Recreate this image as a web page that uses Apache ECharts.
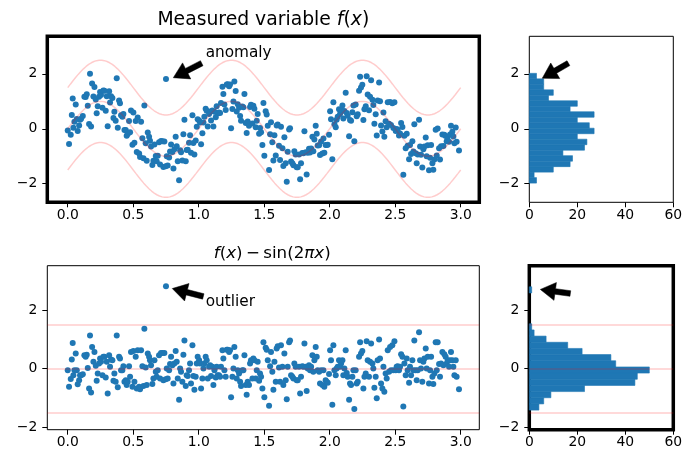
<!DOCTYPE html>
<html>
<head>
<meta charset="utf-8">
<script src="https://cdn.jsdelivr.net/npm/echarts@6.0.0/dist/echarts.min.js"></script>
<style>
  * { margin: 0; padding: 0; }
  body { background: #fff; }
  #main { width: 694px; height: 456px; }
</style>
</head>
<body>
<div id="main"></div>
<script>
// x positions of the measurements
var xs = [
  0.000,0.010,0.023,0.031,0.038,0.043,0.051,0.061,0.069,0.076,0.087,0.094,0.102,0.115,0.127,0.137,0.145,0.153,0.163,0.170,
  0.178,0.186,0.196,0.204,0.214,0.221,0.229,0.239,0.247,0.254,0.265,0.272,0.280,0.290,0.298,0.305,0.316,0.323,0.331,0.341,
  0.349,0.356,0.366,0.374,0.382,0.392,0.399,0.407,0.417,0.425,0.433,0.443,0.450,0.458,0.468,0.476,0.483,0.494,0.501,0.509,
  0.519,0.527,0.534,0.545,0.552,0.560,0.570,0.578,0.585,0.595,0.603,0.611,0.621,0.628,0.636,0.646,0.654,0.662,0.672,0.679,
  0.687,0.697,0.705,0.712,0.723,0.730,0.738,0.748,0.750,0.756,0.763,0.774,0.781,0.789,0.799,0.807,0.814,0.824,0.832,0.840,
  0.850,0.858,0.865,0.875,0.883,0.891,0.901,0.908,0.916,0.926,0.934,0.941,0.952,0.959,0.967,0.977,0.985,0.992,1.003,1.010,
  1.018,1.028,1.036,1.043,1.053,1.061,1.069,1.079,1.087,1.094,1.104,1.112,1.120,1.130,1.137,1.145,1.155,1.163,1.170,1.181,
  1.188,1.196,1.206,1.214,1.221,1.232,1.239,1.247,1.257,1.265,1.272,1.282,1.290,1.298,1.308,1.316,1.323,1.333,1.341,1.349,
  1.359,1.366,1.374,1.384,1.392,1.399,1.410,1.417,1.425,1.435,1.443,1.450,1.461,1.468,1.476,1.486,1.494,1.501,1.511,1.519,
  1.527,1.537,1.545,1.552,1.562,1.570,1.578,1.588,1.595,1.603,1.613,1.621,1.628,1.639,1.646,1.654,1.664,1.672,1.679,1.690,
  1.697,1.705,1.715,1.723,1.730,1.740,1.748,1.756,1.766,1.774,1.781,1.791,1.799,1.807,1.817,1.824,1.832,1.842,1.850,1.858,
  1.868,1.875,1.883,1.893,1.901,1.908,1.919,1.926,1.934,1.944,1.952,1.959,1.969,1.977,1.985,1.995,2.003,2.010,2.020,2.028,
  2.036,2.046,2.053,2.061,2.071,2.079,2.087,2.097,2.104,2.112,2.122,2.130,2.137,2.148,2.155,2.163,2.173,2.181,2.188,2.198,
  2.206,2.214,2.224,2.232,2.239,2.249,2.257,2.265,2.275,2.282,2.290,2.300,2.308,2.316,2.326,2.333,2.341,2.351,2.359,2.366,
  2.377,2.384,2.392,2.402,2.410,2.417,2.427,2.435,2.443,2.453,2.461,2.468,2.478,2.486,2.494,2.504,2.511,2.519,2.529,2.537,
  2.545,2.555,2.562,2.570,2.580,2.588,2.595,2.606,2.613,2.621,2.631,2.639,2.646,2.656,2.664,2.672,2.682,2.690,2.697,2.707,
  2.715,2.723,2.733,2.740,2.748,2.758,2.766,2.774,2.784,2.791,2.799,2.809,2.817,2.824,2.835,2.842,2.850,2.860,2.868,2.875,
  2.885,2.893,2.901,2.911,2.919,2.926,2.936,2.944,2.952,2.962,2.969,2.987
];
// f(x) - sin(2*pi*x)
var resid = [
  -0.06,-0.62,-0.36,0.31,0.87,-0.23,-0.06,0.51,-0.06,-0.54,-0.40,-0.23,-0.23,-0.20,0.45,0.40,0.47,0.02,-0.68,1.13,
  -0.82,0.73,0.23,0.56,0.09,-0.42,-0.17,0.17,0.34,0.23,-0.23,0.40,0.40,-0.31,0.23,-0.85,0.45,0.06,0.31,0.28,
  -0.42,-0.17,-0.45,1.13,-0.64,0.40,0.34,-0.06,-0.06,0.08,-0.45,-0.40,-0.56,-0.45,0.08,-0.28,0.56,-0.62,0.60,-0.45,
  0.40,-0.68,0.62,-0.62,-0.71,0.62,0.08,-0.60,1.36,0.03,-0.56,0.51,0.40,0.28,0.11,-0.53,-0.34,0.28,-0.11,-0.28,
  -0.06,0.45,-0.34,0.53,0.53,-0.40,0.53,-0.37,2.81,0.00,-0.34,-0.06,0.15,0.40,0.11,-0.51,0.17,0.60,0.23,-0.34,
  -1.07,0.00,-0.11,-0.45,0.47,0.96,-0.60,-0.23,-0.26,-0.06,0.17,-0.51,0.79,-0.26,-0.73,-0.28,0.17,0.40,0.28,0.17,
  -0.68,-0.34,0.00,0.17,0.40,0.28,-0.34,0.06,0.11,-0.26,0.06,-0.56,-0.06,-0.31,0.06,-0.23,-0.23,-0.28,0.06,0.62,
  0.34,-0.06,-0.28,0.64,0.64,0.56,0.62,-0.98,-0.28,0.00,0.73,0.40,-0.34,-0.06,-0.17,-0.45,-0.60,-0.06,-0.06,0.45,
  -0.56,-0.90,-0.45,-0.56,0.17,0.28,-0.34,0.34,0.28,-0.34,-0.06,0.23,-0.42,-0.17,-0.28,-0.68,0.90,-0.98,0.71,0.64,
  0.28,-1.27,0.08,0.56,-0.11,-0.73,0.23,-0.45,0.68,0.76,0.03,-0.45,0.79,0.06,-0.56,0.51,-0.40,-1.05,0.06,0.90,
  0.96,-0.23,-0.28,-0.34,0.17,0.06,-0.40,-0.40,0.06,-0.85,-0.28,0.08,0.06,0.85,0.06,-0.77,0.00,0.11,-0.06,0.06,
  0.45,-0.11,0.28,0.73,0.40,-0.06,-0.11,-0.51,-0.06,-0.56,-0.06,-0.62,-0.40,-0.45,-0.49,-0.19,0.62,0.28,-1.24,0.79,
  -0.06,-0.23,0.00,0.06,0.28,0.06,0.17,0.28,-0.23,0.00,0.62,-0.15,-0.28,-1.07,-0.51,-0.56,-0.28,-0.06,-1.38,-0.06,
  -0.51,-0.45,0.40,0.90,0.51,0.60,-0.68,-0.28,-0.17,0.93,0.28,-0.28,0.23,0.85,0.17,0.00,-0.66,-0.28,-1.02,0.28,
  0.99,0.34,-0.51,-0.68,0.06,-0.79,-0.17,-0.34,0.62,-0.11,0.73,-0.06,0.79,-0.06,0.93,-0.06,0.06,0.08,-0.06,0.06,
  0.49,0.40,-1.30,0.17,-0.23,0.34,-0.06,-0.49,0.06,-0.23,0.28,-0.06,0.96,-0.06,-0.40,-0.06,1.24,0.28,0.00,-0.45,
  0.23,0.34,0.68,0.00,0.40,-0.51,-0.06,0.40,-0.28,-0.53,-0.17,0.90,-0.06,0.90,0.15,-0.28,0.17,0.56,0.11,0.49,
  0.40,0.17,0.28,0.06,0.28,0.56,0.28,0.06,-0.23,0.28,-0.28,-0.71
];

// histogram counts, lowest bin first
var topHistCounts = [3,2,10,17,18,14,23,24,20,27,25,20,27,17,20,8,10,6,6,3];
var topHistStart = -1.98, topHistWidth = 0.2;
var botHistCounts = [4,6,9,23,44,45,50,36,34,22,16,7,2,1,0,0,0,0,0,1];
var botHistStart = -1.42, botHistWidth = 0.2105;

var bandLevels = [-1.5, 0, 1.5];
var xTicks = [0, 0.5, 1, 1.5, 2, 2.5, 3];
var yTicks = [-2, 0, 2];
var countTicks = [0, 20, 40, 60];

var BLUE = '#1f77b4';
var PINK = 'rgba(255,0,0,0.2)';
var FONT = 'DejaVu Sans';

var measured = xs.map(function (x, i) { return [x, Math.sin(2 * Math.PI * x) + resid[i]]; });
var residPts = xs.map(function (x, i) { return [x, resid[i]]; });

// model curve sin(2 pi x) and the +-1.5 band around it
var curveX = [];
for (var k = 0; k <= 300; k++) curveX.push(k / 100);
function band(off) {
  return curveX.map(function (x) { return [x, Math.sin(2 * Math.PI * x) + off]; });
}

function histData(counts, start, w) {
  return counts.map(function (c, i) { return [start + i * w, start + (i + 1) * w, c]; });
}

function histItem(params, api) {
  var a = api.coord([0, api.value(1)]);
  var b = api.coord([api.value(2), api.value(0)]);
  return {
    type: 'rect',
    shape: { x: a[0], y: a[1], width: b[0] - a[0], height: b[1] - a[1] },
    style: { fill: BLUE, stroke: api.value(2) > 0 ? BLUE : null, lineWidth: 0.6 }
  };
}

function fmtY(v) { return v < 0 ? '\u2212' + (-v) : String(v); }

var grids = [
  { left: 47.3, top: 36.3, width: 432, height: 166, show: true, borderColor: '#000', borderWidth: 3.5, backgroundColor: 'transparent' },
  { left: 529.3, top: 36.3, width: 144, height: 166, show: true, borderColor: '#000', borderWidth: 1, backgroundColor: 'transparent' },
  { left: 47.3, top: 265.7, width: 432, height: 164, show: true, borderColor: '#000', borderWidth: 1, backgroundColor: 'transparent' },
  { left: 529.3, top: 265.7, width: 144, height: 164, show: true, borderColor: '#000', borderWidth: 3.5, backgroundColor: 'transparent' }
];

function xAxisFor(i, isHist) {
  return {
    type: 'value', gridIndex: i,
    min: isHist ? 0 : -0.156, max: isHist ? 60 : 3.142,
    axisLine: { show: false, onZero: false },
    splitLine: { show: false },
    axisTick: { show: true, length: 5, customValues: isHist ? countTicks : xTicks, lineStyle: { color: '#000', width: 1 } },
    axisLabel: {
      customValues: isHist ? countTicks : xTicks,
      formatter: function (v) { return isHist ? String(v) : v.toFixed(1); },
      color: '#000', fontSize: 13.9, fontFamily: FONT, margin: 6
    }
  };
}
function yAxisFor(i, range) {
  return {
    type: 'value', gridIndex: i,
    min: range[0], max: range[1],
    axisLine: { show: false, onZero: false },
    splitLine: { show: false },
    axisTick: { show: true, length: 5, customValues: yTicks, lineStyle: { color: '#000', width: 1 } },
    axisLabel: { customValues: yTicks, formatter: fmtY, color: '#000', fontSize: 13.9, fontFamily: FONT, margin: 10 }
  };
}

var topRange = [-2.68, 3.37];
var botRange = [-2.09, 3.51];

var chart = echarts.init(document.getElementById('main'), null, { renderer: 'canvas' });

var hlineMark = {
  silent: true, symbol: 'none', label: { show: false },
  lineStyle: { color: PINK, width: 1.5, type: 'solid' },
  data: bandLevels.map(function (v) { return { yAxis: v }; })
};

chart.setOption({
  animation: false,
  backgroundColor: '#fff',
  textStyle: { fontFamily: FONT },
  grid: grids,
  xAxis: [xAxisFor(0, false), xAxisFor(1, true), xAxisFor(2, false), xAxisFor(3, true)],
  yAxis: [yAxisFor(0, topRange), yAxisFor(1, topRange), yAxisFor(2, botRange), yAxisFor(3, botRange)],
  series: [
    { type: 'scatter', xAxisIndex: 0, yAxisIndex: 0, data: measured, symbolSize: 6, itemStyle: { color: BLUE, opacity: 1 }, z: 2 },
    { type: 'line', xAxisIndex: 0, yAxisIndex: 0, data: band(0), showSymbol: false, lineStyle: { color: PINK, width: 1.5 }, z: 3 },
    { type: 'line', xAxisIndex: 0, yAxisIndex: 0, data: band(1.5), showSymbol: false, lineStyle: { color: PINK, width: 1.5 }, z: 3 },
    { type: 'line', xAxisIndex: 0, yAxisIndex: 0, data: band(-1.5), showSymbol: false, lineStyle: { color: PINK, width: 1.5 }, z: 3 },
    { type: 'custom', xAxisIndex: 1, yAxisIndex: 1, data: histData(topHistCounts, topHistStart, topHistWidth), renderItem: histItem, encode: { x: 2, y: [0, 1] }, z: 2 },
    { type: 'scatter', xAxisIndex: 2, yAxisIndex: 2, data: residPts, symbolSize: 6, itemStyle: { color: BLUE, opacity: 1 }, z: 2, markLine: hlineMark },
    { type: 'custom', xAxisIndex: 3, yAxisIndex: 3, data: histData(botHistCounts, botHistStart, botHistWidth), renderItem: histItem, encode: { x: 2, y: [0, 1] }, z: 2, markLine: hlineMark }
  ]
});

// annotation arrows: [panel, tail(data), tip(data)]
var arrows = [
  [0, [1.023, 2.39], [0.806, 1.86]],
  [1, [16.3, 2.39], [5.4, 1.84]],
  [2, [1.035, 2.46], [0.798, 2.73]],
  [3, [17.1, 2.56], [4.6, 2.70]]
];
var notes = [
  [0, 'anomaly', [1.053, 2.75]],
  [2, 'outlier', [1.053, 2.26]]
];

function px(i, p) { return chart.convertToPixel({ xAxisIndex: i, yAxisIndex: i }, p); }

function arrowShape(t, p) {
  var dx = p[0] - t[0], dy = p[1] - t[1];
  var len = Math.sqrt(dx * dx + dy * dy);
  var ux = dx / len, uy = dy / len, nx = -uy, ny = ux;
  var hl = 15, hw = 9, sw = 2.8;
  var bx = p[0] - ux * hl, by = p[1] - uy * hl;
  return [
    [t[0] + nx * sw, t[1] + ny * sw],
    [bx + nx * sw, by + ny * sw],
    [bx + nx * hw, by + ny * hw],
    [p[0], p[1]],
    [bx - nx * hw, by - ny * hw],
    [bx - nx * sw, by - ny * sw],
    [t[0] - nx * sw, t[1] - ny * sw]
  ];
}

var g = [];
arrows.forEach(function (a) {
  g.push({ type: 'polygon', z: 100, shape: { points: arrowShape(px(a[0], a[1]), px(a[0], a[2])) }, style: { fill: '#000', stroke: '#000', lineWidth: 0.5 } });
});
notes.forEach(function (n) {
  var p = px(n[0], n[2]);
  g.push({ type: 'text', z: 100, x: p[0], y: p[1], style: { text: n[1], fill: '#000', font: '15.3px "DejaVu Sans"', align: 'left', verticalAlign: 'middle' } });
});
// panel titles
var t0 = grids[0], t2 = grids[2];
g.push({
  type: 'text', z: 100, x: t0.left + t0.width / 2, y: t0.top - 7,
  style: {
    text: 'Measured variable {i|f}({i|x})', fill: '#000', fontSize: 18.8, fontFamily: FONT,
    align: 'center', verticalAlign: 'bottom',
    rich: { i: { fontStyle: 'italic', fontSize: 18.8, fontFamily: FONT, fill: '#000' } }
  }
});
g.push({
  type: 'text', z: 100, x: t2.left + t2.width / 2 + 9, y: t2.top - 4,
  style: {
    text: '{i|f}({i|x})\u2009\u2212\u2009sin(2{i|\u03c0}{i|x})', fill: '#000', fontSize: 16.7, fontFamily: FONT,
    align: 'center', verticalAlign: 'bottom',
    rich: { i: { fontStyle: 'italic', fontSize: 16.7, fontFamily: FONT, fill: '#000' } }
  }
});
chart.setOption({ graphic: g });
</script>
</body>
</html>
